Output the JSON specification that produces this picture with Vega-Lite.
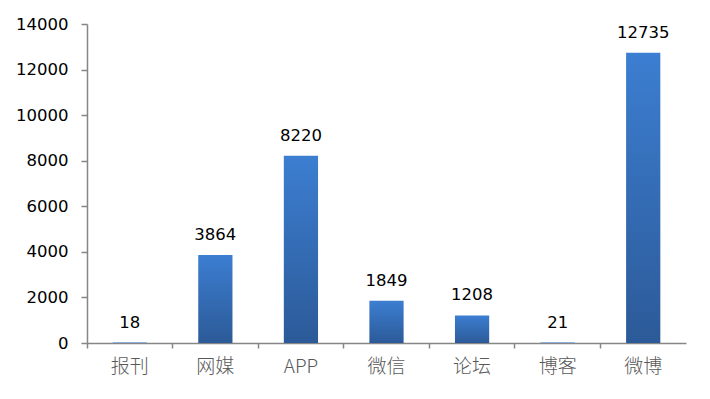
{
  "$schema": "https://vega.github.io/schema/vega-lite/v6.json",
  "autosize": {"type": "none"},
  "padding": {"left": 87, "top": 24, "right": 24, "bottom": 56},
  "width": 599,
  "height": 319,
  "background": "white",
  "config": {"view": {"stroke": null}},
  "data": {"values": [
    {"cat": "报刊", "value": 18},
    {"cat": "网媒", "value": 3864},
    {"cat": "APP", "value": 8220},
    {"cat": "微信", "value": 1849},
    {"cat": "论坛", "value": 1208},
    {"cat": "博客", "value": 21},
    {"cat": "微博", "value": 12735}
  ]},
  "encoding": {
    "x": {
      "field": "cat", "type": "nominal", "sort": null,
      "scale": {"paddingInner": 0, "paddingOuter": 0},
      "axis": {
        "title": null, "labelAngle": 0, "bandPosition": 0,
        "domainColor": "#868686", "domainWidth": 1.5,
        "tickColor": "#868686", "tickWidth": 1.5, "tickSize": 5,
        "labelFont": "Noto Sans CJK SC", "labelFontSize": 19, "labelFontWeight": 300, "labelColor": "#595959",
        "labelPadding": 9
      }
    },
    "y": {
      "field": "value", "type": "quantitative",
      "scale": {"domain": [0, 14000], "nice": false},
      "axis": {
        "title": null, "values": [0, 2000, 4000, 6000, 8000, 10000, 12000, 14000],
        "format": "d", "grid": false,
        "domainColor": "#868686", "domainWidth": 1.5,
        "tickColor": "#868686", "tickWidth": 1.5, "tickSize": 6,
        "labelFont": "DejaVu Sans", "labelFontSize": 16.5, "labelColor": "#000000",
        "labelPadding": 13
      }
    }
  },
  "layer": [
    {
      "mark": {
        "type": "bar",
        "width": {"band": 0.4},
        "color": {
          "gradient": "linear", "x1": 0, "y1": 0, "x2": 0, "y2": 1,
          "stops": [
            {"offset": 0, "color": "#3C7ED1"},
            {"offset": 1, "color": "#2C5A98"}
          ]
        }
      }
    },
    {
      "mark": {
        "type": "text", "font": "DejaVu Sans", "fontSize": 16.5,
        "color": "#000000", "baseline": "alphabetic", "dy": -15
      },
      "encoding": {"text": {"field": "value", "type": "quantitative", "format": "d"}}
    }
  ]
}
